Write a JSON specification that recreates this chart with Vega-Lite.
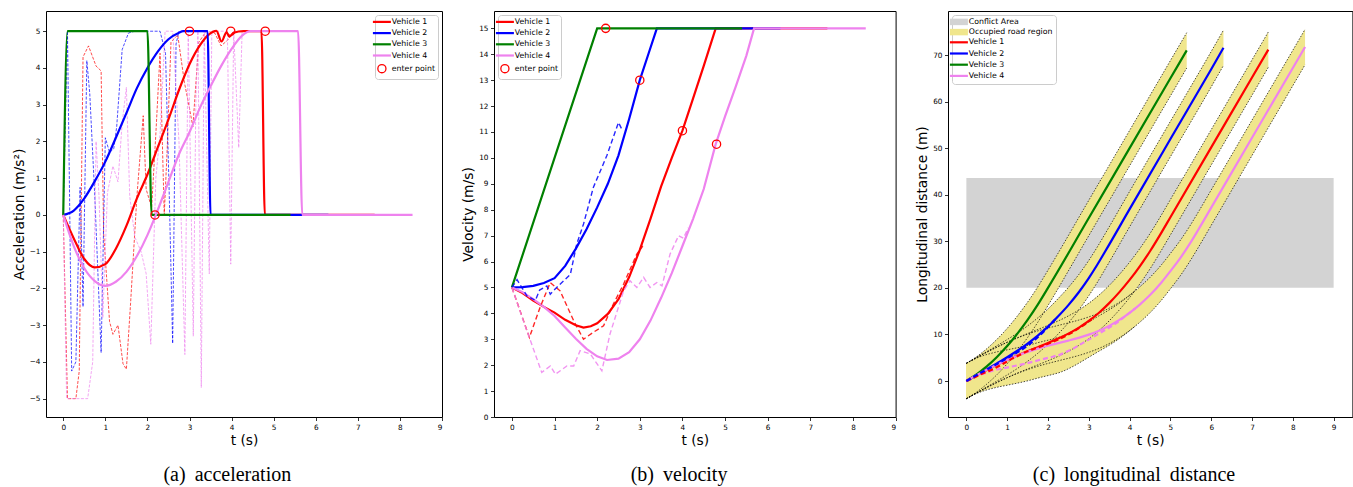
{
"$schema": "https://vega.github.io/schema/vega-lite/v6.json",
"background": "white",
"padding": {"left": 11, "top": 10, "right": 0, "bottom": 0},
"autosize": {"type": "pad"},
"bounds": "flush",
"spacing": 52,
"config": {
 "font": "DejaVu Sans",
 "view": {"stroke": "black", "strokeWidth": 1},
 "axis": {"domain": false, "grid": false, "ticks": true, "labelOverlap": false, "tickColor": "black", "tickSize": 3.5, "tickWidth": 0.8, "labelFont": "DejaVu Sans", "labelFontSize": 7.3, "labelColor": "black", "labelPadding": 2.5, "titleFont": "DejaVu Sans", "titleFontSize": 13.8, "titleFontWeight": "normal", "titleColor": "black", "titlePadding": 3},
 "legend": {"padding": 3, "strokeColor": "#cccccc", "fillColor": "rgba(255,255,255,0.8)", "cornerRadius": 3, "labelFont": "DejaVu Sans", "labelFontSize": 7.8, "labelColor": "black", "rowPadding": 1.2, "labelOffset": 6, "symbolStrokeWidth": 2.2},
 "title": {"font": "Liberation Serif", "fontSize": 20, "fontWeight": "normal", "color": "black"}
},
"resolve": {"scale": {"color": "independent"}, "legend": {"color": "independent"}},
"datasets": {
 "acc": [
  {"veh":"Vehicle 1","k":"a","t":0,"y":0},{"veh":"Vehicle 1","k":"a","t":0.1,"y":-5},{"veh":"Vehicle 1","k":"a","t":0.3,"y":-5},{"veh":"Vehicle 1","k":"a","t":0.38,"y":-4.25},{"veh":"Vehicle 1","k":"a","t":0.47,"y":4.3},{"veh":"Vehicle 1","k":"a","t":0.6,"y":4.6},{"veh":"Vehicle 1","k":"a","t":0.78,"y":4.05},{"veh":"Vehicle 1","k":"a","t":0.9,"y":3.92},{"veh":"Vehicle 1","k":"a","t":0.96,"y":-0.5},{"veh":"Vehicle 1","k":"a","t":1.1,"y":-2.9},{"veh":"Vehicle 1","k":"a","t":1.18,"y":-3.25},{"veh":"Vehicle 1","k":"a","t":1.3,"y":-3.0},{"veh":"Vehicle 1","k":"a","t":1.42,"y":-4.05},{"veh":"Vehicle 1","k":"a","t":1.5,"y":-4.2},{"veh":"Vehicle 1","k":"a","t":1.6,"y":-2.4},{"veh":"Vehicle 1","k":"a","t":1.75,"y":0.5},{"veh":"Vehicle 1","k":"a","t":1.9,"y":2.7},{"veh":"Vehicle 1","k":"a","t":1.97,"y":0.7},{"veh":"Vehicle 1","k":"a","t":2.1,"y":0.2},{"veh":"Vehicle 1","k":"a","t":2.2,"y":2.2},{"veh":"Vehicle 1","k":"a","t":2.3,"y":4.4},{"veh":"Vehicle 1","k":"a","t":2.4,"y":0},{"veh":"Vehicle 1","k":"a","t":2.47,"y":1.8},{"veh":"Vehicle 1","k":"a","t":2.56,"y":4.7},{"veh":"Vehicle 1","k":"a","t":2.72,"y":4.9},{"veh":"Vehicle 1","k":"a","t":2.88,"y":3.6},{"veh":"Vehicle 1","k":"a","t":3.0,"y":2.9},{"veh":"Vehicle 1","k":"a","t":3.08,"y":2.4},{"veh":"Vehicle 1","k":"a","t":3.22,"y":4.7},{"veh":"Vehicle 1","k":"a","t":3.4,"y":5.0},{"veh":"Vehicle 1","k":"a","t":3.6,"y":4.95},{"veh":"Vehicle 1","k":"a","t":3.75,"y":4.6},{"veh":"Vehicle 1","k":"a","t":3.9,"y":4.75},{"veh":"Vehicle 1","k":"a","t":4.05,"y":5.0},
  {"veh":"Vehicle 2","k":"a","t":0,"y":0},{"veh":"Vehicle 2","k":"a","t":0.1,"y":5},{"veh":"Vehicle 2","k":"a","t":0.15,"y":0.5},{"veh":"Vehicle 2","k":"a","t":0.2,"y":-4.25},{"veh":"Vehicle 2","k":"a","t":0.3,"y":-4.0},{"veh":"Vehicle 2","k":"a","t":0.4,"y":0.75},{"veh":"Vehicle 2","k":"a","t":0.47,"y":-2.5},{"veh":"Vehicle 2","k":"a","t":0.56,"y":4.2},{"veh":"Vehicle 2","k":"a","t":0.63,"y":3.3},{"veh":"Vehicle 2","k":"a","t":0.75,"y":0.5},{"veh":"Vehicle 2","k":"a","t":0.9,"y":-3.75},{"veh":"Vehicle 2","k":"a","t":1.0,"y":2.1},{"veh":"Vehicle 2","k":"a","t":1.1,"y":1.7},{"veh":"Vehicle 2","k":"a","t":1.2,"y":1.8},{"veh":"Vehicle 2","k":"a","t":1.27,"y":2.4},{"veh":"Vehicle 2","k":"a","t":1.4,"y":4.5},{"veh":"Vehicle 2","k":"a","t":1.55,"y":4.95},{"veh":"Vehicle 2","k":"a","t":1.7,"y":5.0},{"veh":"Vehicle 2","k":"a","t":2.3,"y":5.0},{"veh":"Vehicle 2","k":"a","t":2.43,"y":4.4},{"veh":"Vehicle 2","k":"a","t":2.52,"y":0.5},{"veh":"Vehicle 2","k":"a","t":2.6,"y":-3.5},{"veh":"Vehicle 2","k":"a","t":2.68,"y":4.65},{"veh":"Vehicle 2","k":"a","t":2.75,"y":5.0},
  {"veh":"Vehicle 4","k":"a","t":0,"y":0},{"veh":"Vehicle 4","k":"a","t":0.08,"y":-5},{"veh":"Vehicle 4","k":"a","t":0.58,"y":-5},{"veh":"Vehicle 4","k":"a","t":0.7,"y":-4.0},{"veh":"Vehicle 4","k":"a","t":0.78,"y":2.0},{"veh":"Vehicle 4","k":"a","t":0.85,"y":0.5},{"veh":"Vehicle 4","k":"a","t":0.94,"y":-2.8},{"veh":"Vehicle 4","k":"a","t":1.05,"y":0.6},{"veh":"Vehicle 4","k":"a","t":1.18,"y":1.33},{"veh":"Vehicle 4","k":"a","t":1.3,"y":0.9},{"veh":"Vehicle 4","k":"a","t":1.4,"y":2.5},{"veh":"Vehicle 4","k":"a","t":1.5,"y":3.47},{"veh":"Vehicle 4","k":"a","t":1.58,"y":0.5},{"veh":"Vehicle 4","k":"a","t":1.7,"y":-0.6},{"veh":"Vehicle 4","k":"a","t":1.85,"y":-1.0},{"veh":"Vehicle 4","k":"a","t":1.97,"y":-1.6},{"veh":"Vehicle 4","k":"a","t":2.08,"y":-3.52},{"veh":"Vehicle 4","k":"a","t":2.2,"y":1.0},{"veh":"Vehicle 4","k":"a","t":2.3,"y":2.2},{"veh":"Vehicle 4","k":"a","t":2.42,"y":5.0},{"veh":"Vehicle 4","k":"a","t":2.6,"y":5.0},{"veh":"Vehicle 4","k":"a","t":2.75,"y":2.0},{"veh":"Vehicle 4","k":"a","t":2.89,"y":-3.8},{"veh":"Vehicle 4","k":"a","t":2.97,"y":5.0},{"veh":"Vehicle 4","k":"a","t":3.09,"y":-3.3},{"veh":"Vehicle 4","k":"a","t":3.15,"y":3.0},{"veh":"Vehicle 4","k":"a","t":3.2,"y":5.0},{"veh":"Vehicle 4","k":"a","t":3.28,"y":-4.7},{"veh":"Vehicle 4","k":"a","t":3.35,"y":5.0},{"veh":"Vehicle 4","k":"a","t":3.47,"y":-1.6},{"veh":"Vehicle 4","k":"a","t":3.53,"y":5.0},{"veh":"Vehicle 4","k":"a","t":3.9,"y":5.0},{"veh":"Vehicle 4","k":"a","t":3.98,"y":-1.34},{"veh":"Vehicle 4","k":"a","t":4.05,"y":5.0},{"veh":"Vehicle 4","k":"a","t":4.17,"y":1.83},{"veh":"Vehicle 4","k":"a","t":4.25,"y":5.0},
  {"veh":"Vehicle 1","k":"p","t":0,"y":0},{"veh":"Vehicle 1","k":"p","t":0.25,"y":-0.64},{"veh":"Vehicle 1","k":"p","t":0.5,"y":-1.2},{"veh":"Vehicle 1","k":"p","t":0.75,"y":-1.43},{"veh":"Vehicle 1","k":"p","t":1,"y":-1.34},{"veh":"Vehicle 1","k":"p","t":1.25,"y":-0.92},{"veh":"Vehicle 1","k":"p","t":1.5,"y":-0.3},{"veh":"Vehicle 1","k":"p","t":1.75,"y":0.45},{"veh":"Vehicle 1","k":"p","t":2,"y":1.1},{"veh":"Vehicle 1","k":"p","t":2.25,"y":1.85},{"veh":"Vehicle 1","k":"p","t":2.5,"y":2.6},{"veh":"Vehicle 1","k":"p","t":2.75,"y":3.4},{"veh":"Vehicle 1","k":"p","t":3,"y":4.1},{"veh":"Vehicle 1","k":"p","t":3.25,"y":4.62},{"veh":"Vehicle 1","k":"p","t":3.45,"y":4.9},{"veh":"Vehicle 1","k":"p","t":3.64,"y":5.01},{"veh":"Vehicle 1","k":"p","t":3.76,"y":4.72},{"veh":"Vehicle 1","k":"p","t":3.88,"y":4.97},{"veh":"Vehicle 1","k":"p","t":3.95,"y":4.85},{"veh":"Vehicle 1","k":"p","t":4.05,"y":4.96},{"veh":"Vehicle 1","k":"p","t":4.28,"y":5},{"veh":"Vehicle 1","k":"p","t":4.71,"y":5},{"veh":"Vehicle 1","k":"p","t":4.79,"y":0},{"veh":"Vehicle 1","k":"p","t":7.4,"y":0},
  {"veh":"Vehicle 2","k":"p","t":0,"y":0},{"veh":"Vehicle 2","k":"p","t":0.25,"y":0.12},{"veh":"Vehicle 2","k":"p","t":0.5,"y":0.45},{"veh":"Vehicle 2","k":"p","t":0.75,"y":0.92},{"veh":"Vehicle 2","k":"p","t":1,"y":1.45},{"veh":"Vehicle 2","k":"p","t":1.25,"y":2.1},{"veh":"Vehicle 2","k":"p","t":1.5,"y":2.77},{"veh":"Vehicle 2","k":"p","t":1.75,"y":3.45},{"veh":"Vehicle 2","k":"p","t":2,"y":4.0},{"veh":"Vehicle 2","k":"p","t":2.25,"y":4.45},{"veh":"Vehicle 2","k":"p","t":2.5,"y":4.78},{"veh":"Vehicle 2","k":"p","t":2.75,"y":4.96},{"veh":"Vehicle 2","k":"p","t":2.85,"y":5},{"veh":"Vehicle 2","k":"p","t":3.43,"y":5},{"veh":"Vehicle 2","k":"p","t":3.5,"y":0},{"veh":"Vehicle 2","k":"p","t":6.3,"y":0},
  {"veh":"Vehicle 3","k":"p","t":0,"y":0},{"veh":"Vehicle 3","k":"p","t":0.1,"y":5},{"veh":"Vehicle 3","k":"p","t":2,"y":5},{"veh":"Vehicle 3","k":"p","t":2.1,"y":0},{"veh":"Vehicle 3","k":"p","t":5.4,"y":0},
  {"veh":"Vehicle 4","k":"p","t":0,"y":0},{"veh":"Vehicle 4","k":"p","t":0.25,"y":-0.85},{"veh":"Vehicle 4","k":"p","t":0.5,"y":-1.45},{"veh":"Vehicle 4","k":"p","t":0.75,"y":-1.8},{"veh":"Vehicle 4","k":"p","t":1,"y":-1.93},{"veh":"Vehicle 4","k":"p","t":1.25,"y":-1.82},{"veh":"Vehicle 4","k":"p","t":1.5,"y":-1.55},{"veh":"Vehicle 4","k":"p","t":1.75,"y":-1.12},{"veh":"Vehicle 4","k":"p","t":2,"y":-0.55},{"veh":"Vehicle 4","k":"p","t":2.2,"y":0},{"veh":"Vehicle 4","k":"p","t":2.5,"y":0.9},{"veh":"Vehicle 4","k":"p","t":2.75,"y":1.65},{"veh":"Vehicle 4","k":"p","t":3,"y":2.25},{"veh":"Vehicle 4","k":"p","t":3.25,"y":2.92},{"veh":"Vehicle 4","k":"p","t":3.5,"y":3.5},{"veh":"Vehicle 4","k":"p","t":3.75,"y":4.05},{"veh":"Vehicle 4","k":"p","t":4,"y":4.52},{"veh":"Vehicle 4","k":"p","t":4.25,"y":4.88},{"veh":"Vehicle 4","k":"p","t":4.45,"y":5},{"veh":"Vehicle 4","k":"p","t":5.58,"y":5},{"veh":"Vehicle 4","k":"p","t":5.68,"y":0},{"veh":"Vehicle 4","k":"p","t":8.3,"y":0}
 ],
 "enterA": [
  {"veh":"enter point","t":2.18,"y":0},{"veh":"enter point","t":3.0,"y":5},{"veh":"enter point","t":3.98,"y":5},{"veh":"enter point","t":4.8,"y":5}
 ],
 "vel": [
  {"veh":"Vehicle 1","k":"p","t":0,"y":5},{"veh":"Vehicle 1","k":"p","t":0.25,"y":4.78},{"veh":"Vehicle 1","k":"p","t":0.5,"y":4.49},{"veh":"Vehicle 1","k":"p","t":0.75,"y":4.25},{"veh":"Vehicle 1","k":"p","t":1,"y":4.03},{"veh":"Vehicle 1","k":"p","t":1.25,"y":3.75},{"veh":"Vehicle 1","k":"p","t":1.5,"y":3.54},{"veh":"Vehicle 1","k":"p","t":1.68,"y":3.45},{"veh":"Vehicle 1","k":"p","t":1.85,"y":3.5},{"veh":"Vehicle 1","k":"p","t":2,"y":3.62},{"veh":"Vehicle 1","k":"p","t":2.25,"y":3.98},{"veh":"Vehicle 1","k":"p","t":2.5,"y":4.55},{"veh":"Vehicle 1","k":"p","t":2.75,"y":5.4},{"veh":"Vehicle 1","k":"p","t":3,"y":6.45},{"veh":"Vehicle 1","k":"p","t":3.25,"y":7.65},{"veh":"Vehicle 1","k":"p","t":3.5,"y":8.9},{"veh":"Vehicle 1","k":"p","t":3.75,"y":10},{"veh":"Vehicle 1","k":"p","t":4,"y":11.05},{"veh":"Vehicle 1","k":"p","t":4.25,"y":12.3},{"veh":"Vehicle 1","k":"p","t":4.5,"y":13.55},{"veh":"Vehicle 1","k":"p","t":4.78,"y":15},{"veh":"Vehicle 1","k":"p","t":7.4,"y":15},
  {"veh":"Vehicle 2","k":"p","t":0,"y":5},{"veh":"Vehicle 2","k":"p","t":0.25,"y":5.01},{"veh":"Vehicle 2","k":"p","t":0.5,"y":5.06},{"veh":"Vehicle 2","k":"p","t":0.75,"y":5.17},{"veh":"Vehicle 2","k":"p","t":1,"y":5.36},{"veh":"Vehicle 2","k":"p","t":1.25,"y":5.83},{"veh":"Vehicle 2","k":"p","t":1.5,"y":6.5},{"veh":"Vehicle 2","k":"p","t":1.75,"y":7.25},{"veh":"Vehicle 2","k":"p","t":2,"y":8.09},{"veh":"Vehicle 2","k":"p","t":2.25,"y":9},{"veh":"Vehicle 2","k":"p","t":2.5,"y":10.1},{"veh":"Vehicle 2","k":"p","t":2.75,"y":11.5},{"veh":"Vehicle 2","k":"p","t":3,"y":13},{"veh":"Vehicle 2","k":"p","t":3.2,"y":14},{"veh":"Vehicle 2","k":"p","t":3.4,"y":15},{"veh":"Vehicle 2","k":"p","t":6.3,"y":15},
  {"veh":"Vehicle 3","k":"p","t":0,"y":5},{"veh":"Vehicle 3","k":"p","t":2,"y":15},{"veh":"Vehicle 3","k":"p","t":5.4,"y":15},
  {"veh":"Vehicle 4","k":"p","t":0,"y":5},{"veh":"Vehicle 4","k":"p","t":0.25,"y":4.82},{"veh":"Vehicle 4","k":"p","t":0.5,"y":4.55},{"veh":"Vehicle 4","k":"p","t":0.75,"y":4.25},{"veh":"Vehicle 4","k":"p","t":1,"y":3.9},{"veh":"Vehicle 4","k":"p","t":1.25,"y":3.45},{"veh":"Vehicle 4","k":"p","t":1.5,"y":3.02},{"veh":"Vehicle 4","k":"p","t":1.75,"y":2.63},{"veh":"Vehicle 4","k":"p","t":2,"y":2.34},{"veh":"Vehicle 4","k":"p","t":2.23,"y":2.2},{"veh":"Vehicle 4","k":"p","t":2.5,"y":2.25},{"veh":"Vehicle 4","k":"p","t":2.75,"y":2.5},{"veh":"Vehicle 4","k":"p","t":3,"y":3},{"veh":"Vehicle 4","k":"p","t":3.25,"y":3.72},{"veh":"Vehicle 4","k":"p","t":3.5,"y":4.6},{"veh":"Vehicle 4","k":"p","t":3.75,"y":5.55},{"veh":"Vehicle 4","k":"p","t":4,"y":6.6},{"veh":"Vehicle 4","k":"p","t":4.25,"y":7.65},{"veh":"Vehicle 4","k":"p","t":4.5,"y":8.8},{"veh":"Vehicle 4","k":"p","t":4.78,"y":10.53},{"veh":"Vehicle 4","k":"p","t":5,"y":11.6},{"veh":"Vehicle 4","k":"p","t":5.25,"y":12.75},{"veh":"Vehicle 4","k":"p","t":5.5,"y":13.95},{"veh":"Vehicle 4","k":"p","t":5.68,"y":15},{"veh":"Vehicle 4","k":"p","t":8.3,"y":15},
  {"veh":"Vehicle 1","k":"a","t":0,"y":5},{"veh":"Vehicle 1","k":"a","t":0.41,"y":3.07},{"veh":"Vehicle 1","k":"a","t":0.66,"y":4.23},{"veh":"Vehicle 1","k":"a","t":0.9,"y":5.19},{"veh":"Vehicle 1","k":"a","t":1.13,"y":4.87},{"veh":"Vehicle 1","k":"a","t":1.45,"y":3.71},{"veh":"Vehicle 1","k":"a","t":1.68,"y":3},{"veh":"Vehicle 1","k":"a","t":1.91,"y":3.27},{"veh":"Vehicle 1","k":"a","t":2.15,"y":3.52},{"veh":"Vehicle 1","k":"a","t":2.38,"y":4.36},{"veh":"Vehicle 1","k":"a","t":2.62,"y":5.13},{"veh":"Vehicle 1","k":"a","t":2.93,"y":6.29},{"veh":"Vehicle 1","k":"a","t":3.07,"y":6.6},
  {"veh":"Vehicle 2","k":"a","t":0,"y":5},{"veh":"Vehicle 2","k":"a","t":0.12,"y":5.3},{"veh":"Vehicle 2","k":"a","t":0.35,"y":4.68},{"veh":"Vehicle 2","k":"a","t":0.55,"y":4.5},{"veh":"Vehicle 2","k":"a","t":0.65,"y":4.9},{"veh":"Vehicle 2","k":"a","t":0.82,"y":5.06},{"veh":"Vehicle 2","k":"a","t":0.9,"y":4.74},{"veh":"Vehicle 2","k":"a","t":1.05,"y":5},{"veh":"Vehicle 2","k":"a","t":1.37,"y":5.5},{"veh":"Vehicle 2","k":"a","t":1.52,"y":6.67},{"veh":"Vehicle 2","k":"a","t":1.68,"y":7.45},{"veh":"Vehicle 2","k":"a","t":1.91,"y":8.86},{"veh":"Vehicle 2","k":"a","t":2.23,"y":10.1},{"veh":"Vehicle 2","k":"a","t":2.5,"y":11.37},{"veh":"Vehicle 2","k":"a","t":2.58,"y":11.1},
  {"veh":"Vehicle 4","k":"a","t":0,"y":5},{"veh":"Vehicle 4","k":"a","t":0.27,"y":3.71},{"veh":"Vehicle 4","k":"a","t":0.7,"y":1.72},{"veh":"Vehicle 4","k":"a","t":0.9,"y":1.97},{"veh":"Vehicle 4","k":"a","t":1.02,"y":1.65},{"veh":"Vehicle 4","k":"a","t":1.29,"y":1.97},{"veh":"Vehicle 4","k":"a","t":1.45,"y":1.97},{"veh":"Vehicle 4","k":"a","t":1.6,"y":2.56},{"veh":"Vehicle 4","k":"a","t":1.84,"y":2.43},{"veh":"Vehicle 4","k":"a","t":2.11,"y":1.78},{"veh":"Vehicle 4","k":"a","t":2.3,"y":3.2},{"veh":"Vehicle 4","k":"a","t":2.62,"y":4.87},{"veh":"Vehicle 4","k":"a","t":2.77,"y":5.26},{"veh":"Vehicle 4","k":"a","t":2.93,"y":5},{"veh":"Vehicle 4","k":"a","t":3.09,"y":5.39},{"veh":"Vehicle 4","k":"a","t":3.24,"y":5},{"veh":"Vehicle 4","k":"a","t":3.4,"y":5.19},{"veh":"Vehicle 4","k":"a","t":3.52,"y":5.06},{"veh":"Vehicle 4","k":"a","t":3.71,"y":6.29},{"veh":"Vehicle 4","k":"a","t":3.91,"y":7},{"veh":"Vehicle 4","k":"a","t":4.02,"y":6.9},{"veh":"Vehicle 4","k":"a","t":4.14,"y":7.3}
 ],
 "enterB": [
  {"veh":"enter point","t":2.2,"y":15},{"veh":"enter point","t":3.0,"y":13},{"veh":"enter point","t":4.0,"y":11.05},{"veh":"enter point","t":4.8,"y":10.53}
 ],
 "pos": [
  {"veh":"Vehicle 1","k":"p","t":0,"y":0,"lo":-3.8,"hi":3.8},{"veh":"Vehicle 1","k":"p","t":0.25,"y":1.22,"lo":-2.58,"hi":5.02},{"veh":"Vehicle 1","k":"p","t":0.5,"y":2.38,"lo":-1.42,"hi":6.18},{"veh":"Vehicle 1","k":"p","t":0.75,"y":3.47,"lo":-0.33,"hi":7.27},{"veh":"Vehicle 1","k":"p","t":1,"y":4.51,"lo":0.71,"hi":8.31},{"veh":"Vehicle 1","k":"p","t":1.25,"y":5.48,"lo":1.68,"hi":9.28},{"veh":"Vehicle 1","k":"p","t":1.5,"y":6.39,"lo":2.59,"hi":10.19},{"veh":"Vehicle 1","k":"p","t":1.75,"y":7.26,"lo":3.46,"hi":11.06},{"veh":"Vehicle 1","k":"p","t":2,"y":8.15,"lo":4.35,"hi":11.95},{"veh":"Vehicle 1","k":"p","t":2.25,"y":9.1,"lo":5.3,"hi":12.9},{"veh":"Vehicle 1","k":"p","t":2.5,"y":10.17,"lo":6.37,"hi":13.97},{"veh":"Vehicle 1","k":"p","t":2.75,"y":11.41,"lo":7.61,"hi":15.21},{"veh":"Vehicle 1","k":"p","t":3,"y":12.89,"lo":9.09,"hi":16.69},{"veh":"Vehicle 1","k":"p","t":3.25,"y":14.65,"lo":10.85,"hi":18.45},{"veh":"Vehicle 1","k":"p","t":3.5,"y":16.72,"lo":12.92,"hi":20.52},{"veh":"Vehicle 1","k":"p","t":3.75,"y":19.08,"lo":15.28,"hi":22.88},{"veh":"Vehicle 1","k":"p","t":4,"y":21.71,"lo":17.91,"hi":25.51},{"veh":"Vehicle 1","k":"p","t":4.25,"y":24.63,"lo":20.83,"hi":28.43},{"veh":"Vehicle 1","k":"p","t":4.5,"y":27.86,"lo":24.06,"hi":31.66},{"veh":"Vehicle 1","k":"p","t":4.78,"y":31.86,"lo":28.06,"hi":35.66},{"veh":"Vehicle 1","k":"p","t":5,"y":35.16,"lo":31.36,"hi":38.96},{"veh":"Vehicle 1","k":"p","t":6,"y":50.16,"lo":46.36,"hi":53.96},{"veh":"Vehicle 1","k":"p","t":7,"y":65.16,"lo":61.36,"hi":68.96},{"veh":"Vehicle 1","k":"p","t":7.4,"y":71.16,"lo":67.36,"hi":74.96},
  {"veh":"Vehicle 2","k":"p","t":0,"y":0,"lo":-3.8,"hi":3.8},{"veh":"Vehicle 2","k":"p","t":0.25,"y":1.25,"lo":-2.55,"hi":5.05},{"veh":"Vehicle 2","k":"p","t":0.5,"y":2.51,"lo":-1.29,"hi":6.31},{"veh":"Vehicle 2","k":"p","t":0.75,"y":3.79,"lo":-0.01,"hi":7.59},{"veh":"Vehicle 2","k":"p","t":1,"y":5.1,"lo":1.3,"hi":8.9},{"veh":"Vehicle 2","k":"p","t":1.25,"y":6.49,"lo":2.69,"hi":10.29},{"veh":"Vehicle 2","k":"p","t":1.5,"y":8.03,"lo":4.23,"hi":11.83},{"veh":"Vehicle 2","k":"p","t":1.75,"y":9.75,"lo":5.95,"hi":13.55},{"veh":"Vehicle 2","k":"p","t":2,"y":11.67,"lo":7.87,"hi":15.47},{"veh":"Vehicle 2","k":"p","t":2.25,"y":13.9,"lo":10.1,"hi":17.7},{"veh":"Vehicle 2","k":"p","t":2.5,"y":16.3,"lo":12.5,"hi":20.1},{"veh":"Vehicle 2","k":"p","t":2.75,"y":19,"lo":15.2,"hi":22.8},{"veh":"Vehicle 2","k":"p","t":3,"y":22.1,"lo":18.3,"hi":25.9},{"veh":"Vehicle 2","k":"p","t":3.2,"y":24.85,"lo":21.05,"hi":28.65},{"veh":"Vehicle 2","k":"p","t":3.4,"y":27.8,"lo":24,"hi":31.6},{"veh":"Vehicle 2","k":"p","t":4,"y":36.9,"lo":33.1,"hi":40.7},{"veh":"Vehicle 2","k":"p","t":5,"y":51.95,"lo":48.15,"hi":55.75},{"veh":"Vehicle 2","k":"p","t":6,"y":66.95,"lo":63.15,"hi":70.75},{"veh":"Vehicle 2","k":"p","t":6.3,"y":71.55,"lo":67.75,"hi":75.35},
  {"veh":"Vehicle 3","k":"p","t":0,"y":0,"lo":-3.8,"hi":3.8},{"veh":"Vehicle 3","k":"p","t":0.25,"y":1.41,"lo":-2.39,"hi":5.21},{"veh":"Vehicle 3","k":"p","t":0.5,"y":3.13,"lo":-0.67,"hi":6.93},{"veh":"Vehicle 3","k":"p","t":0.75,"y":5.16,"lo":1.36,"hi":8.96},{"veh":"Vehicle 3","k":"p","t":1,"y":7.5,"lo":3.7,"hi":11.3},{"veh":"Vehicle 3","k":"p","t":1.25,"y":10.16,"lo":6.36,"hi":13.96},{"veh":"Vehicle 3","k":"p","t":1.5,"y":13.13,"lo":9.33,"hi":16.93},{"veh":"Vehicle 3","k":"p","t":1.75,"y":16.41,"lo":12.61,"hi":20.21},{"veh":"Vehicle 3","k":"p","t":2,"y":20,"lo":16.2,"hi":23.8},{"veh":"Vehicle 3","k":"p","t":3,"y":35,"lo":31.2,"hi":38.8},{"veh":"Vehicle 3","k":"p","t":4,"y":50,"lo":46.2,"hi":53.8},{"veh":"Vehicle 3","k":"p","t":5,"y":65,"lo":61.2,"hi":68.8},{"veh":"Vehicle 3","k":"p","t":5.4,"y":71,"lo":67.2,"hi":74.8},
  {"veh":"Vehicle 4","k":"p","t":0,"y":0,"lo":-3.8,"hi":3.8},{"veh":"Vehicle 4","k":"p","t":0.25,"y":1.23,"lo":-2.57,"hi":5.03},{"veh":"Vehicle 4","k":"p","t":0.5,"y":2.4,"lo":-1.4,"hi":6.2},{"veh":"Vehicle 4","k":"p","t":0.75,"y":3.5,"lo":-0.3,"hi":7.3},{"veh":"Vehicle 4","k":"p","t":1,"y":4.52,"lo":0.72,"hi":8.32},{"veh":"Vehicle 4","k":"p","t":1.25,"y":5.44,"lo":1.64,"hi":9.24},{"veh":"Vehicle 4","k":"p","t":1.5,"y":6.25,"lo":2.45,"hi":10.05},{"veh":"Vehicle 4","k":"p","t":1.75,"y":6.95,"lo":3.15,"hi":10.75},{"veh":"Vehicle 4","k":"p","t":2,"y":7.57,"lo":3.77,"hi":11.37},{"veh":"Vehicle 4","k":"p","t":2.25,"y":8.13,"lo":4.33,"hi":11.93},{"veh":"Vehicle 4","k":"p","t":2.5,"y":8.68,"lo":4.88,"hi":12.48},{"veh":"Vehicle 4","k":"p","t":2.75,"y":9.27,"lo":5.47,"hi":13.07},{"veh":"Vehicle 4","k":"p","t":3,"y":9.96,"lo":6.16,"hi":13.76},{"veh":"Vehicle 4","k":"p","t":3.25,"y":10.8,"lo":7,"hi":14.6},{"veh":"Vehicle 4","k":"p","t":3.5,"y":11.84,"lo":8.04,"hi":15.64},{"veh":"Vehicle 4","k":"p","t":3.75,"y":13.11,"lo":9.31,"hi":16.91},{"veh":"Vehicle 4","k":"p","t":4,"y":14.63,"lo":10.83,"hi":18.43},{"veh":"Vehicle 4","k":"p","t":4.25,"y":16.41,"lo":12.61,"hi":20.21},{"veh":"Vehicle 4","k":"p","t":4.5,"y":18.45,"lo":14.65,"hi":22.25},{"veh":"Vehicle 4","k":"p","t":4.78,"y":21.15,"lo":17.35,"hi":24.95},{"veh":"Vehicle 4","k":"p","t":5,"y":23.59,"lo":19.79,"hi":27.39},{"veh":"Vehicle 4","k":"p","t":5.25,"y":26.5,"lo":22.7,"hi":30.3},{"veh":"Vehicle 4","k":"p","t":5.5,"y":29.82,"lo":26.02,"hi":33.62},{"veh":"Vehicle 4","k":"p","t":5.68,"y":32.42,"lo":28.62,"hi":36.22},{"veh":"Vehicle 4","k":"p","t":6,"y":37.22,"lo":33.42,"hi":41.02},{"veh":"Vehicle 4","k":"p","t":7,"y":52.22,"lo":48.42,"hi":56.02},{"veh":"Vehicle 4","k":"p","t":8,"y":67.22,"lo":63.42,"hi":71.02},{"veh":"Vehicle 4","k":"p","t":8.3,"y":71.72,"lo":67.92,"hi":75.52},
  {"veh":"Vehicle 4","k":"a","t":0,"y":0,"lo":-3.8,"hi":3.8},{"veh":"Vehicle 4","k":"a","t":0.27,"y":1.18,"lo":-2.62,"hi":4.98},{"veh":"Vehicle 4","k":"a","t":0.7,"y":2.35,"lo":-1.45,"hi":6.15},{"veh":"Vehicle 4","k":"a","t":1.02,"y":2.93,"lo":-0.87,"hi":6.73},{"veh":"Vehicle 4","k":"a","t":1.45,"y":3.73,"lo":-0.07,"hi":7.53},{"veh":"Vehicle 4","k":"a","t":1.84,"y":4.63,"lo":0.83,"hi":8.43},{"veh":"Vehicle 4","k":"a","t":2.11,"y":5.2,"lo":1.4,"hi":9},{"veh":"Vehicle 4","k":"a","t":2.3,"y":5.67,"lo":1.87,"hi":9.47},{"veh":"Vehicle 4","k":"a","t":2.62,"y":6.96,"lo":3.16,"hi":10.76},{"veh":"Vehicle 4","k":"a","t":2.93,"y":8.54,"lo":4.74,"hi":12.34},{"veh":"Vehicle 4","k":"a","t":3.24,"y":10.15,"lo":6.35,"hi":13.95},{"veh":"Vehicle 4","k":"a","t":3.52,"y":11.58,"lo":7.78,"hi":15.38},{"veh":"Vehicle 4","k":"a","t":3.71,"y":12.66,"lo":8.86,"hi":16.46},{"veh":"Vehicle 4","k":"a","t":4.14,"y":15.6,"lo":11.8,"hi":19.4},
  {"veh":"Vehicle 1","k":"a","t":0,"y":0},{"veh":"Vehicle 1","k":"a","t":0.41,"y":1.65},{"veh":"Vehicle 1","k":"a","t":0.66,"y":2.56},{"veh":"Vehicle 1","k":"a","t":0.9,"y":3.69},{"veh":"Vehicle 1","k":"a","t":1.13,"y":4.85},{"veh":"Vehicle 1","k":"a","t":1.45,"y":6.22},{"veh":"Vehicle 1","k":"a","t":1.68,"y":6.99},{"veh":"Vehicle 1","k":"a","t":1.91,"y":7.71},{"veh":"Vehicle 1","k":"a","t":2.15,"y":8.53},{"veh":"Vehicle 1","k":"a","t":2.38,"y":9.44},{"veh":"Vehicle 1","k":"a","t":2.62,"y":10.58},{"veh":"Vehicle 1","k":"a","t":2.93,"y":12.35},{"veh":"Vehicle 1","k":"a","t":3.07,"y":13.25},
  {"veh":"Vehicle 2","k":"a","t":0,"y":0},{"veh":"Vehicle 2","k":"a","t":0.12,"y":0.62},{"veh":"Vehicle 2","k":"a","t":0.35,"y":1.77},{"veh":"Vehicle 2","k":"a","t":0.55,"y":2.69},{"veh":"Vehicle 2","k":"a","t":0.65,"y":3.16},{"veh":"Vehicle 2","k":"a","t":0.82,"y":4.01},{"veh":"Vehicle 2","k":"a","t":0.9,"y":4.4},{"veh":"Vehicle 2","k":"a","t":1.05,"y":5.13},{"veh":"Vehicle 2","k":"a","t":1.37,"y":6.81},{"veh":"Vehicle 2","k":"a","t":1.52,"y":7.72},{"veh":"Vehicle 2","k":"a","t":1.68,"y":8.85},{"veh":"Vehicle 2","k":"a","t":1.91,"y":10.73},{"veh":"Vehicle 2","k":"a","t":2.23,"y":13.76}
 ],
 "conflict": [{"veh":"Conflict Area","t0":0,"t1":9,"y0":20,"y1":43.6}]
},
"hconcat": [
 {
  "width": 396, "height": 406,
  "title": {"text": "(a)\u2009 acceleration", "orient": "bottom", "frame": "bounds", "anchor": "middle", "offset": 18},
  "layer": [
   {
    "data": {"name": "acc"},
    "transform": [{"filter": "datum.k == 'a'"}],
    "mark": {"type": "line", "strokeWidth": 1, "strokeDash": [3, 1.5], "opacity": 0.7},
    "encoding": {
     "x": {"field": "t", "type": "quantitative", "scale": {"domain": [-0.41, 9], "nice": false, "zero": false}, "axis": {"values": [0,1,2,3,4,5,6,7,8,9], "title": "t (s)", "format": "d", "labelOverlap": false}},
     "y": {"field": "y", "type": "quantitative", "scale": {"domain": [-5.5, 5.55], "nice": false, "zero": false}, "axis": {"values": [-5,-4,-3,-2,-1,0,1,2,3,4,5], "title": "Acceleration (m/s²)", "format": "d", "labelOverlap": false, "labelExpr": "replace(datum.label, '-', '−')"}},
     "color": {"field": "veh", "type": "nominal",
      "scale": {"domain": ["Vehicle 1","Vehicle 2","Vehicle 3","Vehicle 4","enter point"], "range": ["#ff0000","#0000ff","#008000","#ee82ee","#ff0000"]}}
    }
   },
   {
    "data": {"name": "acc"},
    "transform": [{"filter": "datum.k == 'p'"}],
    "mark": {"type": "line", "strokeWidth": 2.2, "interpolate": "monotone"},
    "encoding": {
     "x": {"field": "t", "type": "quantitative"},
     "y": {"field": "y", "type": "quantitative"},
     "color": {"field": "veh", "type": "nominal",
      "legend": {"title": null, "orient": "top-right", "offset": 4, "symbolSize": 324,
       "encode": {"symbols": {"update": {
        "shape": {"signal": "datum.value == 'enter point' ? 'circle' : 'stroke'"},
        "size": {"signal": "datum.value == 'enter point' ? 66 : 324"},
        "strokeWidth": {"signal": "datum.value == 'enter point' ? 1.3 : 2.2"},
        "fill": {"value": "transparent"},
        "stroke": {"signal": "datum.value == 'Vehicle 2' ? '#0000ff' : datum.value == 'Vehicle 3' ? '#008000' : datum.value == 'Vehicle 4' ? '#ee82ee' : '#ff0000'"},
        "opacity": {"value": 1}
       }}}}}
    }
   },
   {
    "data": {"name": "enterA"},
    "mark": {"type": "point", "filled": false, "size": 68, "strokeWidth": 1.3, "opacity": 1},
    "encoding": {
     "x": {"field": "t", "type": "quantitative"},
     "y": {"field": "y", "type": "quantitative"},
     "color": {"field": "veh", "type": "nominal"}
    }
   }
  ]
 },
 {
  "width": 401.6, "height": 406,
  "title": {"text": "(b)\u2009 velocity", "orient": "bottom", "frame": "bounds", "anchor": "middle", "offset": 18},
  "layer": [
   {
    "data": {"name": "vel"},
    "transform": [{"filter": "datum.k == 'p'"}],
    "mark": {"type": "line", "strokeWidth": 2.2},
    "encoding": {
     "x": {"field": "t", "type": "quantitative", "scale": {"domain": [-0.42, 9], "nice": false, "zero": false}, "axis": {"values": [0,1,2,3,4,5,6,7,8,9], "title": "t (s)", "format": "d", "labelOverlap": false}},
     "y": {"field": "y", "type": "quantitative", "scale": {"domain": [0, 15.67], "nice": false, "zero": false}, "axis": {"values": [0,1,2,3,4,5,6,7,8,9,10,11,12,13,14,15], "tickCount": 16, "title": "Velocity (m/s)", "format": "d", "labelOverlap": false}},
     "color": {"field": "veh", "type": "nominal",
      "scale": {"domain": ["Vehicle 1","Vehicle 2","Vehicle 3","Vehicle 4","enter point"], "range": ["#ff0000","#0000ff","#008000","#ee82ee","#ff0000"]},
      "legend": {"title": null, "orient": "top-left", "offset": 4, "symbolSize": 324,
       "encode": {"symbols": {"update": {
        "shape": {"signal": "datum.value == 'enter point' ? 'circle' : 'stroke'"},
        "size": {"signal": "datum.value == 'enter point' ? 66 : 324"},
        "strokeWidth": {"signal": "datum.value == 'enter point' ? 1.3 : 2.2"},
        "fill": {"value": "transparent"},
        "stroke": {"signal": "datum.value == 'Vehicle 2' ? '#0000ff' : datum.value == 'Vehicle 3' ? '#008000' : datum.value == 'Vehicle 4' ? '#ee82ee' : '#ff0000'"},
        "opacity": {"value": 1}
       }}}}}
    }
   },
   {
    "data": {"name": "vel"},
    "transform": [{"filter": "datum.k == 'a'"}],
    "mark": {"type": "line", "strokeWidth": 1.4, "strokeDash": [5, 3], "opacity": 0.85},
    "encoding": {
     "x": {"field": "t", "type": "quantitative"},
     "y": {"field": "y", "type": "quantitative"},
     "color": {"field": "veh", "type": "nominal"}
    }
   },
   {
    "data": {"name": "enterB"},
    "mark": {"type": "point", "filled": false, "size": 68, "strokeWidth": 1.3, "opacity": 1},
    "encoding": {
     "x": {"field": "t", "type": "quantitative"},
     "y": {"field": "y", "type": "quantitative"},
     "color": {"field": "veh", "type": "nominal"}
    }
   }
  ]
 },
 {
  "width": 404.4, "height": 406,
  "title": {"text": "(c)\u2009 longitudinal\u2009 distance", "orient": "bottom", "frame": "bounds", "anchor": "middle", "offset": 18},
  "layer": [
   {
    "data": {"name": "conflict"},
    "mark": {"type": "rect"},
    "encoding": {
     "x": {"field": "t0", "type": "quantitative", "scale": {"domain": [-0.45, 9.46], "nice": false, "zero": false}, "axis": {"values": [0,1,2,3,4,5,6,7,8,9], "title": "t (s)", "format": "d", "labelOverlap": false}},
     "x2": {"field": "t1"},
     "y": {"field": "y0", "type": "quantitative", "scale": {"domain": [-7.73, 79.45], "nice": false, "zero": false}, "axis": {"values": [0,10,20,30,40,50,60,70], "title": "Longitudinal distance (m)", "format": "d", "labelOverlap": false}},
     "y2": {"field": "y1"},
     "color": {"field": "veh", "type": "nominal",
      "scale": {"domain": ["Conflict Area","Occupied road region","Vehicle 1","Vehicle 2","Vehicle 3","Vehicle 4"], "range": ["#d3d3d3","#f0e68c","#ff0000","#0000ff","#008000","#ee82ee"]}}
    }
   },
   {
    "data": {"name": "pos"},
    "transform": [{"filter": "isValid(datum.lo)"}],
    "mark": {"type": "area", "opacity": 1, "fillOpacity": 1, "interpolate": "monotone"},
    "encoding": {
     "x": {"field": "t", "type": "quantitative", "axis": {"title": "t (s)"}},
     "y": {"field": "lo", "type": "quantitative", "stack": null, "axis": {"title": "Longitudinal distance (m)"}},
     "y2": {"field": "hi"},
     "detail": [{"field": "veh"}, {"field": "k"}],
     "color": {"datum": "Occupied road region"}
    }
   },
   {
    "data": {"name": "pos"},
    "transform": [{"filter": "isValid(datum.lo)"}],
    "mark": {"type": "line", "color": "black", "strokeWidth": 0.7, "strokeDash": [1.5, 1.5], "interpolate": "monotone"},
    "encoding": {
     "x": {"field": "t", "type": "quantitative", "axis": {"title": "t (s)"}},
     "y": {"field": "lo", "type": "quantitative", "axis": {"title": "Longitudinal distance (m)"}},
     "detail": [{"field": "veh"}, {"field": "k"}]
    }
   },
   {
    "data": {"name": "pos"},
    "transform": [{"filter": "isValid(datum.hi)"}],
    "mark": {"type": "line", "color": "black", "strokeWidth": 0.7, "strokeDash": [1.5, 1.5], "interpolate": "monotone"},
    "encoding": {
     "x": {"field": "t", "type": "quantitative", "axis": {"title": "t (s)"}},
     "y": {"field": "hi", "type": "quantitative", "axis": {"title": "Longitudinal distance (m)"}},
     "detail": [{"field": "veh"}, {"field": "k"}]
    }
   },
   {
    "data": {"name": "pos"},
    "transform": [{"filter": "datum.k == 'p'"}],
    "mark": {"type": "line", "strokeWidth": 2.2, "interpolate": "monotone"},
    "encoding": {
     "x": {"field": "t", "type": "quantitative", "axis": {"title": "t (s)"}},
     "y": {"field": "y", "type": "quantitative", "axis": {"title": "Longitudinal distance (m)"}},
     "color": {"field": "veh", "type": "nominal",
      "legend": {"title": null, "orient": "top-left", "offset": 4, "symbolSize": 324,
       "encode": {"symbols": {"update": {
        "shape": {"signal": "(datum.value == 'Conflict Area' || datum.value == 'Occupied road region') ? 'M-1,-0.36H1V0.36H-1Z' : 'stroke'"},
        "size": {"value": 324},
        "strokeWidth": {"signal": "(datum.value == 'Conflict Area' || datum.value == 'Occupied road region') ? 0 : 2.2"},
        "fill": {"signal": "datum.value == 'Conflict Area' ? '#d3d3d3' : datum.value == 'Occupied road region' ? '#f0e68c' : 'transparent'"},
        "stroke": {"signal": "datum.value == 'Vehicle 1' ? '#ff0000' : datum.value == 'Vehicle 2' ? '#0000ff' : datum.value == 'Vehicle 3' ? '#008000' : datum.value == 'Vehicle 4' ? '#ee82ee' : 'transparent'"},
        "opacity": {"value": 1},
        "fillOpacity": {"value": 1}
       }}}}}
    }
   },
   {
    "data": {"name": "pos"},
    "transform": [{"filter": "datum.k == 'a'"}],
    "mark": {"type": "line", "strokeWidth": 2.2, "strokeDash": [5, 3]},
    "encoding": {
     "x": {"field": "t", "type": "quantitative", "axis": {"title": "t (s)"}},
     "y": {"field": "y", "type": "quantitative", "axis": {"title": "Longitudinal distance (m)"}},
     "color": {"field": "veh", "type": "nominal"}
    }
   }
  ]
 }
]
}
